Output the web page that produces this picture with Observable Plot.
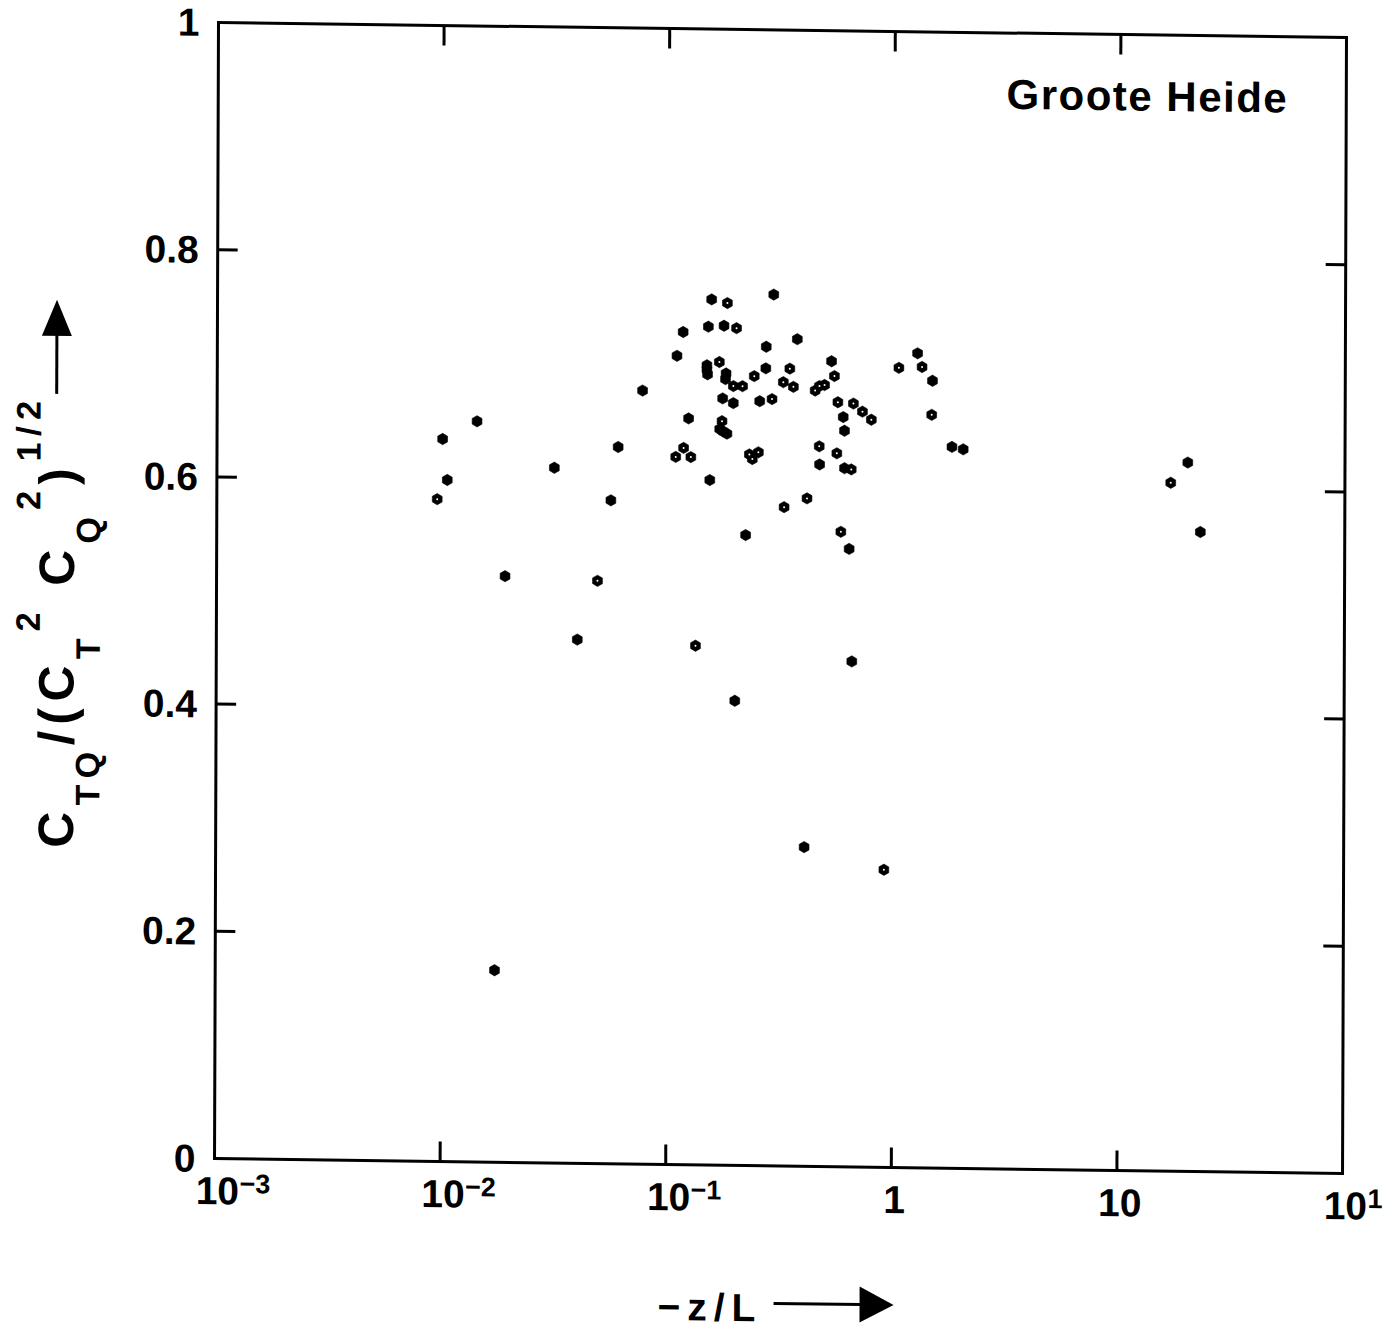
<!DOCTYPE html>
<html>
<head>
<meta charset="utf-8">
<script src="https://cdn.jsdelivr.net/npm/d3@7"></script>
<script src="https://cdn.jsdelivr.net/npm/@observablehq/plot@0.6"></script>
<style>
  html, body { margin: 0; padding: 0; background: #fff; }
  #chart { width: 1385px; height: 1330px; overflow: hidden; position: relative; }
</style>
</head>
<body>
<div id="chart"></div>
<script>
// ---- data (Groote Heide) ----
const zL = [
  0.155, 0.182, 0.292, 0.116, 0.150, 0.176, 0.200, 0.372, 0.271, 0.109,
  0.148, 0.148, 0.149, 0.168, 0.180, 0.179, 0.194, 0.213, 0.240, 0.270,
  0.345, 0.323, 0.358, 0.528, 0.544, 0.447, 0.467, 0.492, 0.0768, 0.174,
  0.194, 0.254, 0.288, 0.564, 0.661, 0.725, 0.794, 0.596, 0.604, 0.123,
  0.173, 0.169, 0.175, 0.182, 0.117, 0.108, 0.126, 0.229, 0.251, 0.236,
  0.153, 0.467, 0.559, 0.469, 0.605, 0.648, 0.413, 0.327, 0.221, 0.584,
  0.636, 0.133, 0.656, 0.199, 0.406, 0.917, 0.0142, 0.0100, 0.0105, 0.00948,
  0.0313, 0.0600, 0.0558, 0.0190, 0.0488, 0.0398, 1.27, 1.05, 1.33, 1.48,
  1.47, 1.81, 2.03, 20.1, 16.9, 22.9, 0.0173
];
const ctq = [
  0.762, 0.759, 0.767, 0.733, 0.738, 0.739, 0.737, 0.728, 0.721, 0.712,
  0.704, 0.700, 0.696, 0.707, 0.697, 0.692, 0.686, 0.686, 0.695, 0.702,
  0.702, 0.690, 0.686, 0.709, 0.696, 0.683, 0.687, 0.688, 0.681, 0.675,
  0.671, 0.673, 0.675, 0.673, 0.672, 0.665, 0.658, 0.660, 0.648, 0.657,
  0.655, 0.648, 0.646, 0.644, 0.631, 0.623, 0.623, 0.626, 0.628, 0.622,
  0.603, 0.634, 0.628, 0.618, 0.615, 0.614, 0.588, 0.580, 0.555, 0.559,
  0.544, 0.457, 0.445, 0.409, 0.281, 0.262, 0.652, 0.636, 0.600, 0.583,
  0.612, 0.631, 0.584, 0.516, 0.513, 0.461, 0.717, 0.704, 0.705, 0.693,
  0.663, 0.635, 0.633, 0.624, 0.606, 0.563, 0.169
];
const kind = [
  "solid","open","solid","solid","solid","solid","open","solid","solid","solid",
  "solid","solid","solid","open","solid","solid","open","open","open","solid",
  "open","open","open","solid","open","open","open","open","solid","solid",
  "solid","solid","open","open","open","open","open","solid","solid","solid",
  "open","solid","solid","solid","open","open","open","open","open","open",
  "solid","open","open","solid","solid","open","open","open","solid","open",
  "solid","open","solid","solid","solid","open","solid","solid","solid","open",
  "solid","solid","solid","solid","open","solid","solid","open","open","solid",
  "open","solid","solid","solid","open","solid","solid"
];

const xTicks = [0.001, 0.01, 0.1, 1, 10, 100];
const xTickBase = ["10", "10", "10", "1", "10", "10"];
const xTickExp = ["\u22123", "\u22122", "\u22121", "", "", "1"];
const xInnerTicks = [0.01, 0.1, 1, 10];
const yTicks = [0, 0.2, 0.4, 0.6, 0.8, 1];
const yTickLabels = ["0", "0.2", "0.4", "0.6", "0.8", "1"];
const yInnerTicks = [0.2, 0.4, 0.6, 0.8];
const siteLabel = "Groote Heide";

// ---- build tables ----
const points = zL.map((x, i) => ({x, y: ctq[i], kind: kind[i]}));
const xTickData = xTicks.map((v, i) => ({v, base: xTickBase[i], exp: xTickExp[i]}));
const yTickData = yTicks.map((v, i) => ({v, label: yTickLabels[i]}));

const font = "'Liberation Sans', Arial, Helvetica, sans-serif";
const line = {draw(ctx, l) { ctx.moveTo(0, 0); ctx.lineTo(0, -l); }};
const tickStyle = {length: 20, anchor: "start", shape: line, stroke: "black", strokeWidth: 3, strokeLinecap: "butt"};

const chart = Plot.plot({
  width: 1385,
  height: 1330,
  marginTop: 22,
  marginLeft: 218,
  marginRight: 39,
  marginBottom: 172,
  style: {fontFamily: font, background: "white", color: "black", overflow: "visible"},
  x: {type: "log", domain: [1e-3, 1e2], axis: null},
  y: {domain: [0, 1], axis: null},
  marks: [
    Plot.frame({stroke: "black", strokeWidth: 3}),
    Plot.vector(xInnerTicks, {x: d => d, frameAnchor: "bottom", rotate: 0, ...tickStyle}),
    Plot.vector(xInnerTicks, {x: d => d, frameAnchor: "top", rotate: 180, ...tickStyle}),
    Plot.vector(yInnerTicks, {y: d => d, frameAnchor: "left", rotate: 90, ...tickStyle}),
    Plot.vector(yInnerTicks, {y: d => d, frameAnchor: "right", rotate: -90, ...tickStyle}),
    Plot.text(yTickData, {y: "v", text: "label", frameAnchor: "left", textAnchor: "end", dx: -19, dy: 1,
      fontSize: 39, fontWeight: "bold", fill: "black"}),
    Plot.text(xTickData, {x: "v", text: "base", frameAnchor: "bottom", lineAnchor: "top", dx: 3, dy: 18,
      fontSize: 39, fontWeight: "bold", fill: "black"}),
    Plot.text(xTickData, {x: "v", text: "exp", frameAnchor: "bottom", lineAnchor: "top", dx: 25, dy: 15,
      textAnchor: "start", fontSize: 27, fontWeight: "bold", fill: "black"}),
    Plot.text([siteLabel], {frameAnchor: "top-right", textAnchor: "end", lineAnchor: "top", dx: -58, dy: 46,
      fontSize: 42, fontWeight: "bold", fill: "black"}),
    Plot.dot(points, {x: "x", y: "y", symbol: "hexagon", r: 4.9, fill: "black", stroke: "black", strokeWidth: 0.6}),
    Plot.dot(points.filter(d => d.kind === "open"), {x: "x", y: "y", r: 1.0, fill: "white"})
  ]
});

const svg = d3.select(chart);
svg.selectAll("text").filter(function() { return this.textContent === siteLabel; })
  .attr("letter-spacing", 1.5);

// y-axis label with sub/superscripts and arrow
const gy = svg.append("g").attr("transform", "translate(76,850) rotate(-90)");
const ty = gy.append("text")
  .attr("text-anchor", "start")
  .attr("font-family", font).attr("font-weight", "bold").attr("font-size", 50)
  .attr("letter-spacing", 6.5).attr("fill", "black");
const parts = [
  ["C", 50, 0], ["TQ", 34, 26], ["/(C", 50, -26], ["T", 34, 26], ["2", 34, -60],
  [" C", 50, 34], ["Q", 34, 26], ["2", 34, -60], [")", 50, 34], ["1/2", 34, -34]
];
parts.forEach(([s, fs, dy]) => ty.append("tspan").attr("font-size", fs).attr("dy", dy).text(s));
svg.append("path").attr("d", "M58,396 L58,334").attr("stroke", "black").attr("stroke-width", 3).attr("fill", "none");
svg.append("path").attr("d", "M58,302 L43,338 L73,338 Z").attr("fill", "black");

// x-axis label with arrow
svg.append("text")
  .attr("text-anchor", "start")
  .attr("x", 662).attr("y", 1314)
  .attr("font-family", font).attr("font-weight", "bold").attr("font-size", 39)
  .attr("letter-spacing", 7).attr("fill", "black")
  .text("\u2212z/L");
svg.append("path").attr("d", "M778,1296 L866,1296").attr("stroke", "black").attr("stroke-width", 3).attr("fill", "none");
svg.append("path").attr("d", "M898,1296 L864,1278 L864,1314 Z").attr("fill", "black");

// the scanned original is very slightly sheared; reproduce it
chart.style.transformOrigin = "218px 22px";
chart.style.transform = "matrix(1, 0.0133, -0.0035, 1, 0, 0)";

document.getElementById("chart").appendChild(chart);
</script>
</body>
</html>
